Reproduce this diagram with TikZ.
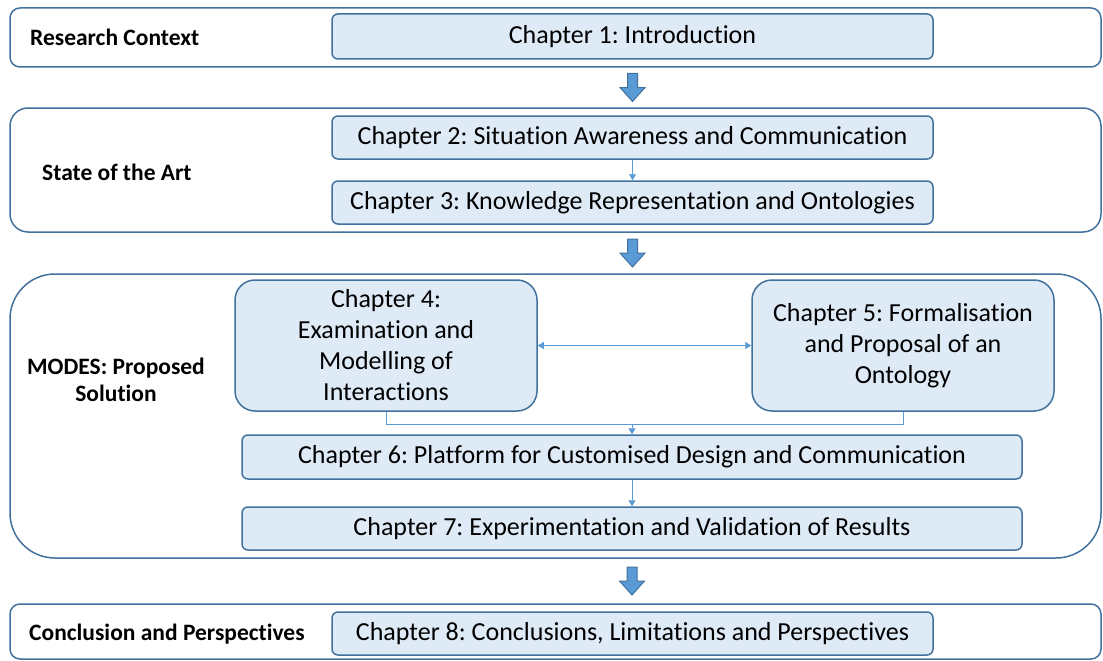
\documentclass[tikz,border=0pt]{standalone}
\usepackage{fontspec}
\setmainfont[Ligatures={NoCommon}]{Carlito}
\usetikzlibrary{arrows.meta,calc,positioning}
\definecolor{frameblue}{HTML}{41719C}
\definecolor{boxfill}{HTML}{DEEBF7}
\definecolor{arrowblue}{HTML}{5B9BD5}
\tikzset{
  frame/.style={draw=frameblue, line width=1.5pt, inner sep=0pt},
  chapter/.style={draw=frameblue, fill=boxfill, line width=1.5pt, rounded corners=6pt,
    inner sep=0pt, font=\fontsize{26}{31}\selectfont, align=center},
  part/.style={font=\bfseries\fontsize{23.5}{27}\selectfont, align=center, inner sep=0pt},
  blockarrow/.style={draw=frameblue, fill=arrowblue, line width=1pt},
  link/.style={draw=arrowblue, line width=0.8pt},
  linkarrow/.style={link, -{Triangle[width=7pt,length=6pt]}},
}
\def\blkarrow#1{\draw[blockarrow] ($(#1)+(-5,-14)$) -- ++(10,0) -- ++(0,14) -- ++(7.5,0)
  -- ++(-12.5,14) -- ++(-12.5,-14) -- ++(7.5,0) -- cycle;}

\begin{document}
\frenchspacing
\begin{tikzpicture}[x=1pt, y=-1pt]
  \useasboundingbox (0,0) rectangle (1103,661);

  %%%%% FRAMES %%%%%
  \node[frame, rounded corners=10pt, minimum width=1091pt, minimum height=59pt] (ctx) at (555.5,37.5) {};
  \node[frame, rounded corners=18pt, minimum width=1091pt, minimum height=124pt] (soa) at (555.5,170) {};
  \node[frame, rounded corners=45pt, minimum width=1091pt, minimum height=284pt] (modes) at (555.5,416) {};
  \node[frame, rounded corners=10pt, minimum width=1091pt, minimum height=55pt] (concl) at (555.5,631.5) {};

  \node[part, anchor=west] (lctx) at (30,37) {Research Context};
  \node[part, anchor=west] (lsoa) at (42,172) {State of the Art};
  \node[part] (lmodes) at (116,380) {MODES: Proposed\\Solution};
  \node[part, anchor=west] (lconcl) at (29,634) {Conclusion and Perspectives};

  %%%%% CHAPTERS %%%%%
  \node[chapter, minimum width=601pt, minimum height=45pt] (ch1) at (632.5,36.5) {Chapter 1: Introduction};
  \node[chapter, minimum width=601pt, minimum height=43pt] (ch2) at (632.5,137.5) {Chapter 2: Situation Awareness and Communication};
  \node[chapter, minimum width=601pt, minimum height=43pt] (ch3) at (632.5,202.5) {Chapter 3: Knowledge Representation and Ontologies};
  \node[chapter, rounded corners=20pt, minimum width=302pt, minimum height=131pt] (ch4) at (386,345.5)
    {Chapter 4:\\Examination and\\Modelling of\\Interactions};
  \node[chapter, rounded corners=20pt, minimum width=302pt, minimum height=131pt] (ch5) at (903,345.5)
    {Chapter 5: Formalisation\\and Proposal of an\\Ontology};
  \node[chapter, minimum width=780pt, minimum height=44pt] (ch6) at (632,457) {Chapter 6: Platform for Customised Design and Communication};
  \node[chapter, minimum width=780pt, minimum height=43pt] (ch7) at (632,528.5) {Chapter 7: Experimentation and Validation of Results};
  \node[chapter, minimum width=601pt, minimum height=43pt] (ch8) at (632.5,633.5) {Chapter 8: Conclusions, Limitations and Perspectives};

  %%%%% CONNECTORS %%%%%
  \coordinate (a1) at ($(ctx.south -| ch1.south)!0.5!(soa.north -| ch1.south)$);
  \coordinate (a2) at ($(soa.south -| ch3.south)!0.5!(modes.north -| ch3.south)$);
  \coordinate (a3) at ($(modes.south -| ch7.south)!0.5!(concl.north -| ch7.south)$);
  \blkarrow{a1}
  \blkarrow{a2}
  \blkarrow{a3}

  \draw[linkarrow] (ch2.south) -- (ch3.north);
  \draw[link, {Triangle[width=7pt,length=6pt]}-{Triangle[width=7pt,length=6pt]}] (ch4.east) -- (ch5.west);
  \coordinate (mergey) at (0,424);
  \coordinate (merge) at (ch6.north |- mergey);
  \draw[link] (ch4.south) |- (merge);
  \draw[link] (ch5.south) |- (merge);
  \draw[linkarrow] (merge) -- (ch6.north);
  \draw[linkarrow] (ch6.south) -- (ch7.north);
\end{tikzpicture}
\end{document}
